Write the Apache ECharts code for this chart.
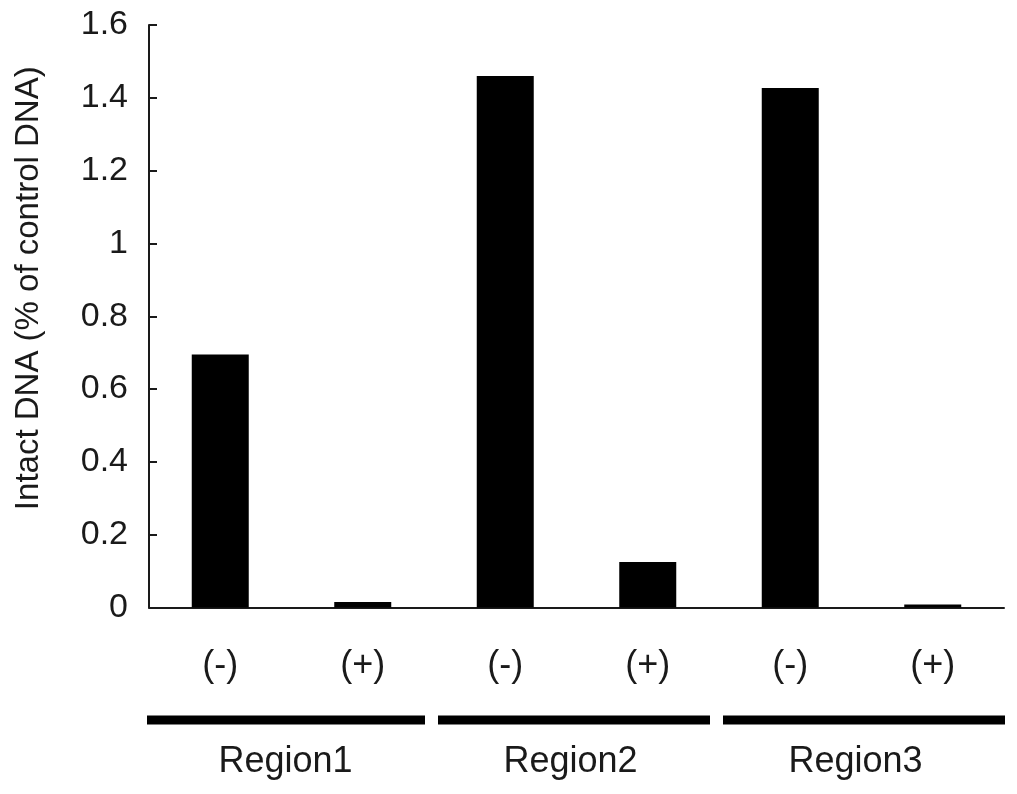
<!DOCTYPE html>
<html><head><meta charset="utf-8">
<script src="https://cdn.jsdelivr.net/npm/echarts@6/dist/echarts.min.js"></script>
<style>html,body{margin:0;padding:0;background:#fff}#c{width:1017px;height:794px}</style>
</head><body><div id="c"></div>
<script>
const categories = ['(-)', '(+)', '(-)', '(+)', '(-)', '(+)'];
const values = [0.695, 0.015, 1.46, 0.125, 1.427, 0.008];
const groups = ['Region1', 'Region2', 'Region3'];
const yTitle = 'Intact DNA (% of control DNA)';

const FONT = 'Liberation Sans, Arial, sans-serif';
const chart = echarts.init(document.getElementById('c'), null, {renderer: 'canvas'});
const option = {
  backgroundColor: '#fff',
  animation: false,
  grid: {left: 149, right: 13, top: 25, bottom: 186.5, containLabel: false, outerBoundsMode: 'none'},
  xAxis: [{
    type: 'category', data: categories, boundaryGap: true,
    axisLine: {show: true, onZero: false, lineStyle: {color: '#1a1a1a', width: 2}},
    axisTick: {show: false},
    axisLabel: {margin: 41, color: '#1a1a1a', fontSize: 36, fontFamily: FONT, lineHeight: 36}
  }, {
    type: 'category', data: groups, position: 'bottom', boundaryGap: true,
    axisLine: {show: false}, axisTick: {show: false}, splitLine: {show: false},
    axisLabel: {margin: 137, color: '#1a1a1a', fontSize: 36, fontFamily: FONT, lineHeight: 36,
      padding: [0, 12, 0, 0]}
  }],
  yAxis: {
    type: 'value', min: 0, max: 1.6, interval: 0.2,
    name: yTitle, nameLocation: 'middle', nameRotate: 90, nameGap: 104,
    nameTextStyle: {color: '#1a1a1a', fontSize: 33, fontFamily: FONT, padding: [0, 0, 0, 56]},
    axisLine: {show: true, lineStyle: {color: '#1a1a1a', width: 2}},
    axisTick: {show: true, inside: true, length: 8, lineStyle: {color: '#1a1a1a', width: 2}},
    axisLabel: {margin: 21, color: '#1a1a1a', fontSize: 34, fontFamily: FONT},
    splitLine: {show: false}
  },
  series: [{
    type: 'bar', data: values, barWidth: '40%', xAxisIndex: 0,
    itemStyle: {color: '#000'}
  }]
};
chart.setOption(option);

// group underline bars, positioned from the category axis
const c0 = chart.convertToPixel({xAxisIndex: 1}, groups[0]);
const c1 = chart.convertToPixel({xAxisIndex: 1}, groups[1]);
const half = (c1 - c0) / 2;
const yLine = chart.convertToPixel({yAxisIndex: 0}, 0) + 112.5;
const elements = groups.map((g, i) => {
  const c = chart.convertToPixel({xAxisIndex: 1}, g);
  const x0 = (i === 0) ? c - half - 2 : c - half + 4;
  const x1 = (i === groups.length - 1) ? c + half + 1 : c + half - 9;
  return {type: 'line', shape: {x1: x0, y1: yLine, x2: x1, y2: yLine},
    style: {stroke: '#000', lineWidth: 9, lineCap: 'butt'}};
});
chart.setOption({graphic: {elements}});
</script></body></html>
